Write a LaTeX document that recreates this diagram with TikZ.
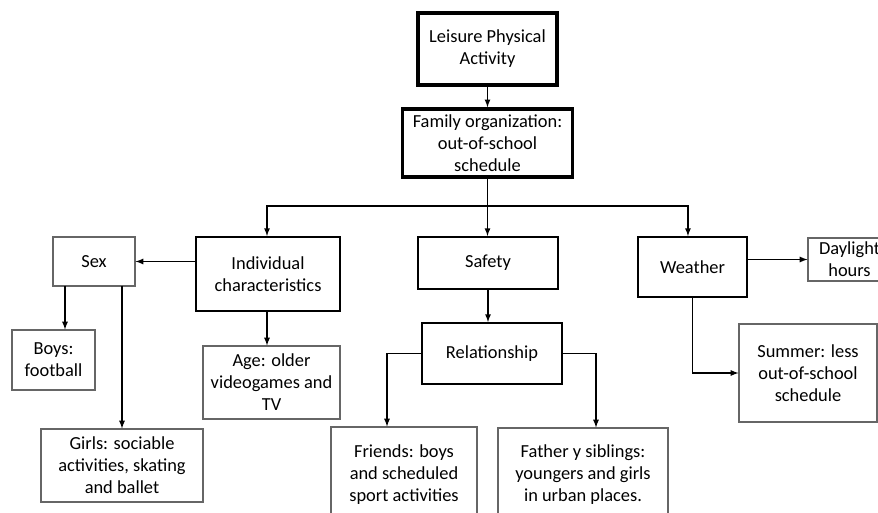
\documentclass[tikz,border=0pt]{standalone}
\usepackage{fontspec}
\setmainfont{Carlito}
\usetikzlibrary{arrows}
\tikzset{
  sz/.style 2 args={minimum width=#1*0.75pt, minimum height=#2*0.75pt},
  thinbox/.style={rectangle, draw=black!60, line width=0.8pt, align=center},
  midbox/.style={rectangle, draw, line width=1.4pt, align=center},
}

\begin{document}
\begin{tikzpicture}[x=0.75pt, y=-0.75pt, >=latex, inner sep=0pt, font=\fontsize{13.8}{16.5}\selectfont]
  \useasboundingbox (0,0) rectangle (878,513);
  \clip (0,0) rectangle (878,513);
  \node[rectangle, draw, line width=3.3pt, align=center, sz={139}{72}] (lpa) at (487.5,49) {Leisure Physical\\Activity};
  \node[rectangle, draw, line width=2.6pt, align=center, sz={170}{68}] (fam) at (487.5,143) {Family organization:\\out-of-school\\schedule};
  \node[thinbox, sz={82}{49}] (sex) at (94,261.5) {Sex};
  \node[midbox, sz={144}{74}] (ind) at (268,274) {Individual\\characteristics};
  \node[midbox, sz={140}{52}] (safety) at (488,263) {Safety};
  \node[midbox, sz={109}{60}] (weather) at (692.5,267) {Weather};
  \node[thinbox, sz={83}{43}] (daylight) at (849.5,259.5) {Daylight\\hours};
  \node[thinbox, sz={138}{98}] (summer) at (808,373) {Summer: less\\out-of-school\\schedule};
  \node[midbox, sz={140}{61}] (rel) at (492,353.5) {Relationship};
  \node[thinbox, sz={146}{96}] (friends) at (404,475) {Friends: boys\\and scheduled\\sport activities};
  \node[thinbox, sz={170}{94}] (father) at (583,475) {Father y siblings:\\youngers and girls\\in urban places.};
  \node[thinbox, sz={83}{60}] (boys) at (53.5,360) {Boys:\\football};
  \node[thinbox, sz={162}{73}] (girls) at (122,465.5) {Girls: sociable\\activities, skating\\and ballet};
  \node[thinbox, sz={137}{73}] (age) at (271.5,382.5) {Age: older\\videogames and\\TV};
  \coordinate (split) at (487.5,206);
  \coordinate (sexl) at (65,286);
  \coordinate (sexr) at (122,286);
  \begin{scope}[line width=1pt]
    \draw[->] (lpa) -- (lpa |- fam.north);
    \draw (lpa |- fam.south) -- (split);
    \draw[->] (split) -| ([xshift=-0.75pt]ind.north);
    \draw[->] (split) -- (split |- safety.north);
    \draw[->] (split) -| ([xshift=-3.4pt]weather.north);
    \draw[->] (ind.west |- sex.east) -- (sex.east);
    \draw[->] (sexl) -- (sexl |- boys.north);
    \draw[->] (sexr) -- (sexr |- girls.north);
    \draw[->] ([xshift=-0.75pt]ind.south) -- ([xshift=-0.75pt]ind.south |- age.north);
    \draw[->] (safety) -- (safety.south |- rel.north);
    \draw[->] (rel.west) -| ([xshift=-12.75pt]friends.north);
    \draw[->] (rel.east) -| ([xshift=9.75pt]father.north);
    \draw[->] (weather.east |- daylight) -- (daylight.west);
    \draw[->] (weather.south) |- (summer.west);
  \end{scope}
\end{tikzpicture}
\end{document}
